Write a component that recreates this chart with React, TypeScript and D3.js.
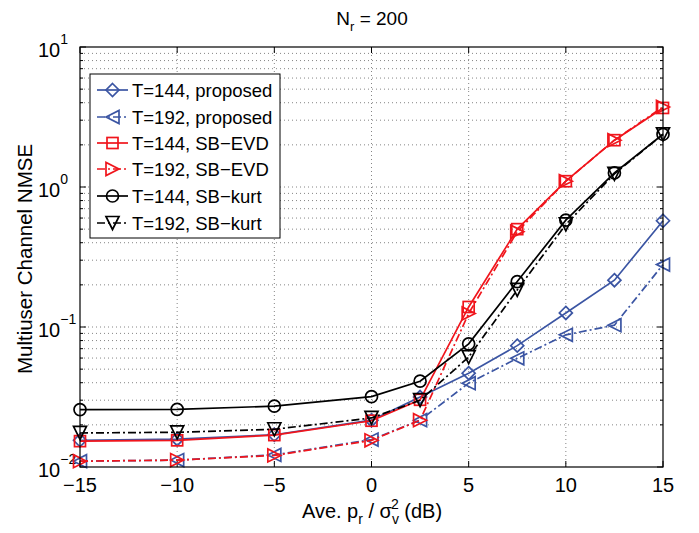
import React from "react";
import * as d3 from "d3";

const snr = [-15, -10, -5, 0, 2.5, 5, 7.5, 10, 12.5, 15];
const prop144 = [0.0155, 0.0158, 0.0170, 0.0216, 0.0316, 0.0468, 0.0736, 0.126, 0.216, 0.574];
const prop192 = [0.0110, 0.0112, 0.0122, 0.0157, 0.0216, 0.0397, 0.0597, 0.0879, 0.103, 0.279];
const evd144 = [0.0153, 0.0155, 0.0169, 0.0214, 0.0302, 0.139, 0.50, 1.10, 2.16, 3.67];
const evd192 = [0.0110, 0.0112, 0.0121, 0.0155, 0.0216, 0.125, 0.48, 1.10, 2.16, 3.73];
const kurt144 = [0.0257, 0.0258, 0.0272, 0.0318, 0.0410, 0.0758, 0.211, 0.58, 1.26, 2.38];
const kurt192 = [0.0175, 0.0177, 0.0186, 0.0224, 0.0300, 0.061, 0.184, 0.54, 1.24, 2.38];
const xTicks = [-15, -10, -5, 0, 5, 10, 15];
const yDecades = [-2, -1, 0, 1];

type Marker = "diamond" | "triLeft" | "square" | "triRight" | "circle" | "triDown";
const series: { name: string; values: number[]; color: string; dash: boolean; marker: Marker }[] = [
  { name: "T=144, proposed", values: prop144, color: "#3b55a3", dash: false, marker: "diamond" },
  { name: "T=192, proposed", values: prop192, color: "#3b55a3", dash: true, marker: "triLeft" },
  { name: "T=144, SB\u2212EVD", values: evd144, color: "#f0151c", dash: false, marker: "square" },
  { name: "T=192, SB\u2212EVD", values: evd192, color: "#f0151c", dash: true, marker: "triRight" },
  { name: "T=144, SB\u2212kurt", values: kurt144, color: "#000000", dash: false, marker: "circle" },
  { name: "T=192, SB\u2212kurt", values: kurt192, color: "#000000", dash: true, marker: "triDown" },
];

const L = 80, R = 663, T = 47, B = 467;
const x = d3.scaleLinear().domain([-15, 15]).range([L, R]);
const y = d3.scaleLog().domain([0.01, 10]).range([B, T]);

function markerPath(m: Marker, cx: number, cy: number): JSX.Element {
  const s = 6.5;
  const common = { fill: "none", strokeWidth: 1.7 } as any;
  switch (m) {
    case "diamond":
      return <path d={`M${cx},${cy - s}L${cx + s},${cy}L${cx},${cy + s}L${cx - s},${cy}Z`} {...common} />;
    case "square":
      return <rect x={cx - 5.5} y={cy - 5.5} width={11} height={11} {...common} />;
    case "circle":
      return <circle cx={cx} cy={cy} r={6} {...common} />;
    case "triLeft":
      return <path d={`M${cx - s},${cy}L${cx + s},${cy - s}L${cx + s},${cy + s}Z`} {...common} />;
    case "triRight":
      return <path d={`M${cx + s},${cy}L${cx - s},${cy - s}L${cx - s},${cy + s}Z`} {...common} />;
    case "triDown":
      return <path d={`M${cx},${cy + s}L${cx - s},${cy - s}L${cx + s},${cy - s}Z`} {...common} />;
  }
}

export default function App() {
  const line = d3.line<[number, number]>().x((d) => x(d[0])).y((d) => y(d[1]));
  const minor: number[] = [];
  for (let e = -2; e < 1; e++) for (let k = 2; k <= 9; k++) minor.push(k * Math.pow(10, e));
  const font = "'Liberation Sans', Arial, sans-serif";
  const grid = { stroke: "#666", strokeWidth: 0.8, strokeDasharray: "1,3" };
  const legendRows = [90, 117, 143, 169, 196, 223];
  return (
    <svg width={699} height={533} style={{ position: "absolute", left: 0, top: 0, background: "#fff" }} fontFamily={font}>
      <rect x={0} y={0} width={699} height={533} fill="#fff" />
      {/* grid */}
      {xTicks.slice(1, -1).map((t) => (
        <line key={"gx" + t} x1={x(t)} x2={x(t)} y1={T} y2={B} {...grid} />
      ))}
      {[...minor, 0.1, 1].map((v, i) => (
        <line key={"gy" + i} x1={L} x2={R} y1={y(v)} y2={y(v)} {...grid} />
      ))}
      {/* ticks */}
      {xTicks.map((t) => (
        <g key={"tx" + t}>
          <line x1={x(t)} x2={x(t)} y1={B} y2={B - 6} stroke="#000" />
          <line x1={x(t)} x2={x(t)} y1={T} y2={T + 6} stroke="#000" />
          <text x={x(t)} y={492} fontSize={20} textAnchor="middle">{t < 0 ? "\u2212" + Math.abs(t) : t}</text>
        </g>
      ))}
      {yDecades.map((e) => (
        <g key={"ty" + e}>
          <line x1={L} x2={L + 6} y1={y(Math.pow(10, e))} y2={y(Math.pow(10, e))} stroke="#000" />
          <line x1={R} x2={R - 6} y1={y(Math.pow(10, e))} y2={y(Math.pow(10, e))} stroke="#000" />
          <text x={38} y={y(Math.pow(10, e)) + 10} fontSize={20}>
            10
            <tspan dy={-13} fontSize={14}>{e < 0 ? "\u2212" + Math.abs(e) : e}</tspan>
          </text>
        </g>
      ))}
      {minor.map((v, i) => (
        <g key={"my" + i}>
          <line x1={L} x2={L + 3} y1={y(v)} y2={y(v)} stroke="#000" />
          <line x1={R} x2={R - 3} y1={y(v)} y2={y(v)} stroke="#000" />
        </g>
      ))}
      {/* series */}
      {series.map((s) => {
        const pts = snr.map((v, i) => [v, s.values[i]] as [number, number]);
        return (
          <g key={s.name} stroke={s.color}>
            <path d={line(pts) || ""} fill="none" strokeWidth={1.7} strokeDasharray={s.dash ? "8,3,2,3" : undefined} />
            {pts.map((p, i) => (
              <g key={i}>{markerPath(s.marker, x(p[0]), y(p[1]))}</g>
            ))}
          </g>
        );
      })}
      {/* frame */}
      <rect x={L} y={T} width={R - L} height={B - T} fill="none" stroke="#000" strokeWidth={1.2} />
      {/* legend */}
      <rect x={90} y={74} width={190} height={164} fill="#fff" stroke="#000" strokeWidth={1} />
      {series.map((s, i) => (
        <g key={"lg" + i}>
          <g stroke={s.color}>
            <line x1={97} x2={128} y1={legendRows[i]} y2={legendRows[i]} strokeWidth={1.7} strokeDasharray={s.dash ? "8,3,2,3" : undefined} />
            {markerPath(s.marker, 112.5, legendRows[i])}
          </g>
          <text x={132} y={legendRows[i] + 7} fontSize={18.5}>{s.name}</text>
        </g>
      ))}
      {/* title */}
      <text x={372} y={25} fontSize={19} textAnchor="middle">
        N<tspan dy={6} fontSize={13}>r</tspan><tspan dy={-6}> = 200</tspan>
      </text>
      {/* axis labels */}
      <text x={372} y={518} fontSize={20} textAnchor="middle">
        Ave. p<tspan dy={6} fontSize={14}>r</tspan><tspan dy={-6}> / σ</tspan>
        <tspan dx={0} dy={6} fontSize={14}>v</tspan>
        <tspan dx={-8} dy={-15} fontSize={14}>2</tspan>
        <tspan dy={9}> (dB)</tspan>
      </text>
      <text transform={`translate(32,${(T + B) / 2 + 2}) rotate(-90)`} fontSize={20.5} textAnchor="middle">
        Multiuser Channel NMSE
      </text>
    </svg>
  );
}
